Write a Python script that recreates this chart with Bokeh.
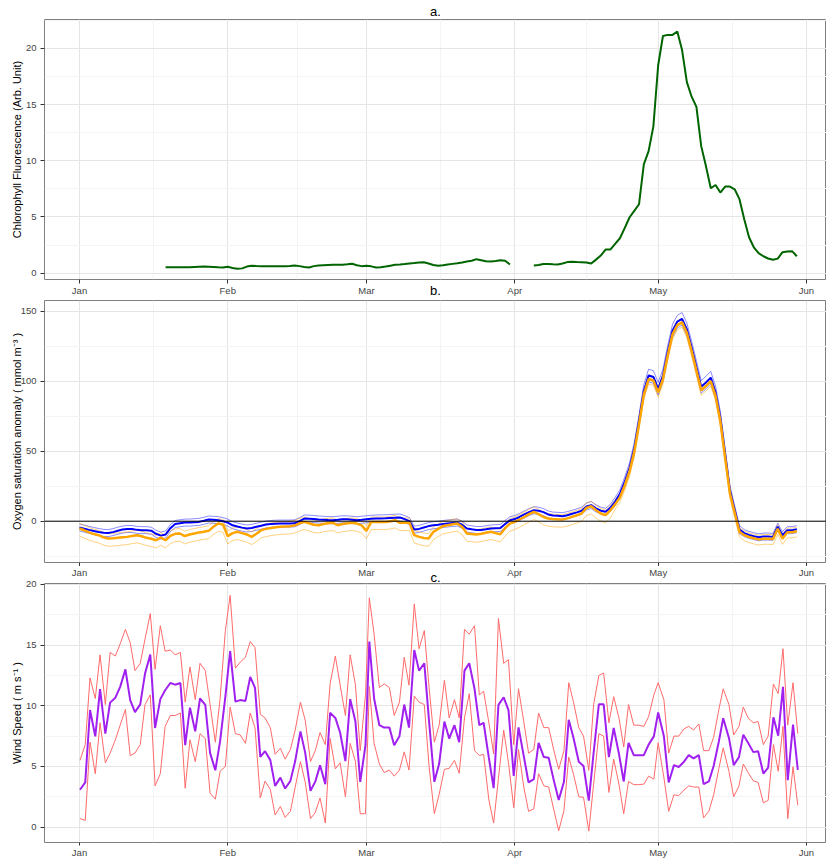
from bokeh.plotting import figure
from bokeh.layouts import column
from bokeh.models import Range1d, FixedTicker, Span, LinearAxis
from bokeh.embed import file_html
from bokeh.resources import INLINE

NAN = float("nan")
FONT = "Liberation Sans"

month_ticks = [0, 31, 60, 91, 121, 152]
month_labels = ["Jan", "Feb", "Mar", "Apr", "May", "Jun"]
month_minor = [15.5, 45.5, 75.5, 106, 136.5]

# ---------------- panel a: chlorophyll fluorescence (daily, day 0 = Jan 1) ----------------
chl_first = 18
chl_part1 = [0.52, 0.51, 0.51, 0.52, 0.52, 0.53, 0.55, 0.57, 0.58, 0.57, 0.55, 0.52, 0.50,
             0.56, 0.46, 0.38, 0.42, 0.58, 0.66, 0.63, 0.61, 0.61, 0.60, 0.60, 0.60, 0.62,
             0.64, 0.68, 0.62, 0.55, 0.50, 0.62, 0.68, 0.70, 0.72, 0.74, 0.75, 0.74, 0.78,
             0.83, 0.70, 0.62, 0.65, 0.60, 0.50, 0.52, 0.58, 0.66, 0.74, 0.76, 0.80, 0.86,
             0.90, 0.95, 0.97, 0.85, 0.72, 0.65, 0.70, 0.76, 0.82, 0.88, 0.95, 1.03, 1.10,
             1.24, 1.15, 1.05, 1.03, 1.08, 1.15, 1.10, 0.76]
chl_gap = 4
chl_part2 = [0.68, 0.72, 0.80, 0.80, 0.78, 0.77, 0.85, 0.98, 1.00, 0.98, 0.97, 0.95, 0.85,
             1.20, 1.56, 2.09, 2.09, 2.60, 3.10, 4.00, 4.95, 5.54, 6.13, 9.67, 10.85, 13.06,
             18.5, 21.1, 21.2, 21.2, 21.5, 19.85, 17.0, 15.7, 14.8, 11.3, 9.5, 7.55, 7.84,
             7.17, 7.7, 7.7, 7.46, 6.58, 4.8, 3.19, 2.3, 1.77, 1.5, 1.3, 1.18, 1.29, 1.86,
             1.92, 1.95, 1.5]
chl = [NAN] * chl_first + chl_part1 + [NAN] * chl_gap + chl_part2

# ---------------- panel b: oxygen saturation anomaly (daily) ----------------
o2_blue = [-4.5, -5.3, -6.2, -7.0, -7.7, -8.3, -8.5, -7.8, -6.8, -6.0, -5.5, -5.6, -6.2, -6.4,
           -6.4, -6.8, -9.0, -10.3, -9.5, -5.0, -2.0, -1.5, -1.0, -1.0, -0.7, -0.5, 0.3, 1.2,
           1.0, 0.7, 0.0, -1.0, -2.9, -3.8, -4.6, -5.2, -4.8, -4.0, -3.2, -2.4, -2.0, -1.8,
           -1.7, -1.7, -1.7, -1.5, 0.0, 1.9, 1.8, 1.5, 1.2, 1.0, 0.8, 0.7, 1.0, 1.4, 1.3, 1.0,
           0.7, 1.0, 1.4, 1.7, 1.9, 2.0, 2.1, 2.3, 2.5, 2.6, 1.5, 0.0, -6.0, -5.5, -4.5, -3.5,
           -2.9, -2.5, -2.0, -1.6, -1.3, -1.0, -2.5, -5.2, -5.8, -6.3, -6.3, -5.8, -5.2, -5.0,
           -4.8, -2.0, 0.7, 1.5, 3.0, 4.8, 6.5, 7.8, 7.5, 6.5, 4.8, 4.0, 3.8, 3.6, 4.3, 5.3,
           6.3, 7.5, 10.5, 11.5, 9.2, 7.5, 6.7, 9.5, 14.0, 19.5, 28.0, 38.0, 52.0, 72.0, 93.0,
           104.0, 103.0, 94.6, 104.0, 121.0, 136.0, 142.5, 144.5, 137.0, 124.0, 110.0, 96.0,
           99.0, 102.5, 92.0, 74.0, 48.0, 22.0, 8.0, -6.0, -8.5, -9.8, -10.7, -11.5, -11.0,
           -11.0, -11.2, -4.0, -10.0, -6.4, -6.4, -5.7]
# half-width of the thin blue envelope
o2_blue_sd = [2.5] * 112 + [3, 3, 3.5, 3.5, 4, 4, 4.5, 4.5, 4.5, 4.5, 4.5, 4.5, 4.5, 4.5,
                            4.5, 4.5, 4.5, 4.5, 4.5, 4.5, 4.5, 4.5, 4.5, 4, 3.5, 3, 3] + [2.5] * 12
o2_orange = [-5.2, -6.5, -8.0, -9.2, -10.0, -11.5, -12.4, -12.2, -11.9, -11.5, -11.2, -10.5,
             -10.0, -10.8, -11.9, -12.5, -13.6, -11.7, -13.6, -10.5, -9.0, -8.8, -10.7, -9.5,
             -8.8, -8.0, -7.5, -6.9, -4.0, -1.7, -2.4, -10.7, -8.5, -7.6, -8.5, -9.5, -11.2,
             -9.0, -6.4, -5.5, -4.8, -4.3, -4.0, -3.8, -3.6, -3.0, -1.5, -0.5, -1.5, -2.5, -2.9,
             -2.0, -1.5, -1.2, -2.9, -2.0, -1.5, -1.2, -1.7, -3.0, -6.9, -0.5, -0.5, -0.5, -0.5,
             0.0, 0.7, -1.2, -1.2, -1.2, -10.0, -11.2, -12.0, -12.4, -7.6, -5.5, -3.5, -2.9,
             -2.2, -1.7, -4.0, -8.8, -9.2, -9.5, -9.0, -8.3, -7.6, -8.5, -9.3, -5.0, -1.7, -0.5,
             1.2, 3.0, 5.0, 6.7, 5.0, 3.0, 1.9, 1.5, 1.3, 1.2, 2.0, 3.1, 4.2, 5.5, 9.5, 10.7, 7.8,
             5.5, 4.3, 7.8, 12.0, 17.0, 25.5, 35.5, 49.5, 69.5, 90.5, 101.5, 100.5, 92.0, 101.5,
             118.5, 133.5, 140.0, 142.0, 134.5, 121.5, 107.5, 93.5, 96.5, 100.0, 89.5, 71.5,
             45.5, 20.0, 6.0, -7.5, -10.0, -11.3, -12.2, -13.0, -12.5, -12.5, -12.7, -5.5,
             -12.5, -7.9, -7.9, -7.2]
o2_orange_up = [3.5] * 112 + [3.0] * 27 + [3.0] * 12
o2_orange_dn = [5.5] * 112 + [3.5] * 27 + [4.0] * 12

# ---------------- panel c: wind speed ----------------
wind_day = [0.1, 1.2, 2.2, 3.3, 4.3, 5.4, 6.4, 7.5, 8.5, 9.6, 10.6, 11.6, 12.7, 13.7, 14.8,
            15.8, 16.9, 17.9, 19.0, 20.0, 21.1, 22.1, 23.1, 24.2, 25.2, 26.3, 27.3, 28.4, 29.4,
            30.5, 31.5, 32.6, 33.6, 34.7, 35.7, 36.7, 37.8, 38.8, 39.9, 40.9, 42.0, 43.0, 44.1,
            45.1, 46.2, 47.2, 48.3, 49.3, 50.3, 51.4, 52.4, 53.5, 54.5, 55.6, 56.6, 57.7, 58.7,
            59.8, 60.6, 61.6, 62.7, 63.7, 64.8, 65.8, 66.9, 67.9, 68.9,
            70.0, 71.0, 72.1, 73.1, 74.2, 75.2, 76.3, 77.3, 78.4, 79.4, 80.5, 81.5, 82.6, 83.6,
            84.5, 85.6, 86.6, 87.6, 88.7, 89.7, 90.8, 91.8, 92.9, 93.9, 95.0, 96.0, 97.1, 98.1,
            99.2, 100.2, 101.3, 102.3, 103.3, 104.4, 105.4, 106.5, 107.5, 108.6, 109.6, 110.7,
            111.7, 112.8, 113.8, 114.8, 115.9, 116.9, 118.0, 119.0, 120.1, 121.0, 122.2, 123.2,
            124.3, 125.3, 126.4, 127.4, 128.4, 129.5, 130.5, 131.6, 132.6, 133.7, 134.6, 135.8,
            136.8, 137.9, 138.8, 139.8, 140.9, 141.9, 143.0, 144.0, 145.1, 146.1, 147.1, 148.1,
            149.2, 150.2]
wind = [3.08, 3.68, 9.65, 7.48, 11.37, 7.7, 10.26, 10.67, 11.56, 13.0, 10.47, 9.48, 10.12,
        12.65, 14.23, 8.17, 10.55, 11.28, 11.88, 11.74, 11.88, 6.75, 9.85, 7.89, 10.6, 10.07,
        6.12, 4.68, 7.08, 10.75, 14.5, 10.34, 10.47, 10.4, 12.38, 11.48, 5.79, 6.26, 5.52,
        3.4, 4.08, 3.18, 3.81, 5.44, 7.89, 6.12, 2.99, 3.75, 5.09, 3.54, 9.42, 9.0, 7.78,
        5.44, 10.55, 8.7, 3.73, 6.75, 15.3, 10.6, 8.4, 8.2, 8.2, 6.75, 7.48, 10.1, 8.2,
        14.6, 12.9, 13.5, 8.7, 3.73, 5.22, 8.7, 7.3, 8.4, 7.0, 12.9, 13.5, 11.4, 8.4, 8.6,
        5.7, 3.21, 10.07, 10.7, 9.65, 4.22, 8.22, 5.85, 3.68, 3.95, 6.95, 5.77, 5.72, 3.81,
        2.24, 3.73, 8.84, 7.35, 5.39, 5.03, 2.18, 6.12, 10.12, 10.12, 5.77, 8.17, 6.04, 3.76,
        6.95, 5.93, 5.93, 5.93, 6.8, 7.48, 9.45, 7.48, 3.68, 5.11, 4.95, 5.39, 5.93, 5.66,
        5.93, 3.54, 3.76, 5.03, 7.08, 8.98, 7.35, 5.11, 5.77, 7.62, 6.95, 6.18, 6.26, 4.41,
        4.9, 9.05, 7.54, 11.56, 3.87, 8.44, 4.71]
wind_hi = [5.5, 6.8, 12.3, 10.6, 14.2, 10.1, 14.4, 14.1, 15.1, 16.3, 15.2, 12.9, 13.5, 15.5,
           17.6, 13.0, 16.6, 14.5, 14.6, 14.2, 14.4, 10.3, 13.2, 10.5, 13.5, 12.9, 10.1, 7.0,
           10.6, 16.2, 19.1, 13.1, 13.6, 14.0, 15.3, 14.8, 9.3, 9.0, 8.2, 6.0, 6.5, 5.6, 6.4,
           8.0, 10.3, 8.8, 5.4, 6.3, 7.8, 6.8, 11.8, 14.1, 11.7, 9.2, 14.2, 11.7, 6.3, 10.9,
           18.9, 15.9, 11.5, 11.8, 11.5, 9.2, 10.3, 14.0, 11.7,
           18.4, 14.7, 16.2, 11.5, 7.0, 8.4, 12.1, 9.0, 10.5, 9.0, 16.3, 15.9, 16.6, 10.9, 11.2,
           8.6, 6.04, 17.2, 13.5, 13.8, 6.8, 11.4, 8.7, 6.1, 6.4, 9.4, 8.2, 8.2, 6.3, 4.76,
           6.3, 11.9, 10.3, 8.2, 7.5, 4.68, 10.1, 12.5, 12.7, 8.6, 10.75, 9.0, 6.6, 10.1, 8.4,
           8.4, 8.3, 9.1, 10.9, 11.9, 10.5, 6.1, 7.5, 7.5, 8.1, 8.3, 8.0, 8.5, 6.3, 6.3,
           7.4, 9.7, 11.4, 10.1, 7.6, 8.3, 9.9, 9.0, 8.6, 8.7, 6.8, 7.5, 11.8, 11.0, 14.7,
           8.4, 11.9, 7.7]
wind_lo = [0.7, 0.55, 7.0, 4.4, 8.6, 5.3, 6.1, 7.2, 8.4, 9.7, 5.9, 6.1, 6.8, 10.1, 10.9, 3.4,
           4.4, 8.3, 9.2, 9.2, 9.4, 3.2, 7.2, 5.4, 7.7, 7.3, 2.8, 2.3, 4.6, 5.0, 9.9, 7.7, 7.6,
           6.9, 9.4, 8.2, 2.4, 3.8, 3.1, 1.0, 1.7, 0.8, 1.3, 3.3, 5.4, 3.7, 0.7, 1.2, 2.4, 0.33,
           7.3, 4.8, 5.3, 2.5, 6.9, 5.4, 1.1, 1.1, 11.6, 6.9, 5.2, 4.5, 4.7, 4.2, 4.7, 6.2, 4.7,
           10.8, 10.3, 10.1, 5.0, 1.1, 2.7, 4.76, 4.84, 5.5, 4.44, 9.0, 11.0, 6.3, 5.9, 6.0,
           2.24, 0.33, 4.0, 8.0, 5.3, 1.6, 6.4, 3.3, 1.3, 1.5, 4.4, 3.4, 3.3, 1.4, -0.3,
           1.35, 5.77, 4.35, 2.5, 2.45, -0.33, 3.5, 7.7, 7.5, 2.86, 5.6, 3.54, 1.1, 3.76, 3.5,
           3.5, 3.54, 4.2, 3.95, 6.95, 4.08, 1.3, 2.66, 2.6, 3.05, 3.4, 3.3, 3.3, 0.76, 1.3,
           2.66, 4.84, 6.53, 4.6, 2.5, 3.4, 5.2, 4.5, 3.81, 3.68, 2.0, 2.2, 6.8, 4.6, 8.3,
           0.7, 4.97, 1.8]


def days(first, n):
    return list(range(first, first + n))


def style_caption(ax, text, standoff):
    ax.axis_label = text
    ax.axis_label_text_font = FONT
    ax.axis_label_text_font_size = "13px"
    ax.axis_label_text_font_style = "normal"
    ax.axis_label_text_color = "black"
    ax.axis_label_standoff = standoff


def base_fig(height, yr, yticks, yminor, ylabel, top, bottom, ylab_standoff,
             tick_out=4, lab_stand=1, title=None):
    kw = {}
    if title is not None:
        kw["title"] = title
    p = figure(width=826, height=height, x_range=Range1d(-7.32, 156.2), y_range=Range1d(*yr),
               output_backend="svg", toolbar_location=None,
               min_border_left=44, min_border_right=0, min_border_top=top,
               min_border_bottom=bottom, **kw)
    p.background_fill_color = "white"
    p.border_fill_color = "white"
    p.outline_line_color = "#7F7F7F"
    p.outline_line_width = 1
    p.xaxis.ticker = FixedTicker(ticks=month_ticks, minor_ticks=month_minor)
    p.xaxis.major_label_overrides = dict(zip(month_ticks, month_labels))
    p.yaxis.ticker = FixedTicker(ticks=yticks, minor_ticks=yminor)
    for ax in (p.xaxis, p.yaxis):
        ax.axis_line_color = None
        ax.minor_tick_line_color = None
        ax.major_tick_line_color = "#333333"
        ax.major_tick_in = 0
        ax.major_label_text_font = FONT
        ax.major_label_text_font_size = "9.5px"
        ax.major_label_text_color = "#444444"
    p.xaxis.major_tick_out = tick_out
    p.yaxis.major_tick_out = 4
    p.xaxis.major_label_standoff = lab_stand
    p.yaxis.major_label_standoff = 4
    p.yaxis.axis_label = ylabel
    p.yaxis.axis_label_text_font = FONT
    p.yaxis.axis_label_text_font_size = "11px"
    p.yaxis.axis_label_text_font_style = "normal"
    p.yaxis.axis_label_text_color = "black"
    p.yaxis.axis_label_standoff = ylab_standoff
    if title is not None:
        p.title.align = "center"
        p.title.text_font = FONT
        p.title.text_font_size = "13px"
        p.title.text_font_style = "normal"
        p.title.text_color = "black"
        p.title.standoff = 2
    for g in (p.xgrid, p.ygrid):
        g.grid_line_color = "#E5E5E5"
        g.grid_line_width = 1
        g.minor_grid_line_color = "#F4F4F4"
        g.minor_grid_line_width = 1
    return p


# panel a
ya = (-0.57, 22.57)
pa = base_fig(300, ya, [0, 5, 10, 15, 20], [2.5, 7.5, 12.5, 17.5, 22.5],
              "Chlorophyll Fluorescence (Arb. Unit)", 19, 19, 0, title="a.")
# the next panel's caption sits on the same line as this panel's month labels
style_caption(pa.xaxis[0], "b.", -16)
pa.line(days(0, len(chl)), chl, line_color="#006400", line_width=2)

# panel b: only tick marks below; its month labels are drawn at the top of panel c's canvas
yb = (-29.5, 157.6)
pb = base_fig(266, yb, [0, 50, 100, 150], [-25, 25, 75, 125],
              "Oxygen saturation anomaly ( mmol m\u207b\u00b3 )", 0, 4, -5, lab_stand=0)
pb.xaxis.major_label_text_color = None
xb = days(0, len(o2_blue))
pb.line(xb, [v + s for v, s in zip(o2_blue, o2_blue_sd)], line_color="#0000FF", line_alpha=0.45, line_width=1)
pb.line(xb, [v - s for v, s in zip(o2_blue, o2_blue_sd)], line_color="#0000FF", line_alpha=0.45, line_width=1)
pb.line(xb, [v + s for v, s in zip(o2_orange, o2_orange_up)], line_color="#FFA500", line_alpha=0.5, line_width=1)
pb.line(xb, [v - s for v, s in zip(o2_orange, o2_orange_dn)], line_color="#FFA500", line_alpha=0.5, line_width=1)
pb.line(xb, o2_blue, line_color="#0000FF", line_width=2)
pb.line(xb, o2_orange, line_color="#FFA500", line_width=2.5)
pb.add_layout(Span(location=0, dimension="width", line_color="black", line_width=1))

# panel c
yc = (-1.27, 20.08)
pc = base_fig(294, yc, [0, 5, 10, 15, 20], [2.5, 7.5, 12.5, 17.5],
              "Wind Speed ( m s\u207b\u00b9 )", 15, 17, 0, tick_out=3, lab_stand=0)
top_axis = LinearAxis(ticker=FixedTicker(ticks=month_ticks),
                      major_label_overrides=dict(zip(month_ticks, month_labels)))
top_axis.axis_line_color = None
top_axis.major_tick_line_color = None
top_axis.minor_tick_line_color = None
top_axis.major_tick_in = 0
top_axis.major_tick_out = 0
top_axis.major_label_standoff = 6
top_axis.major_label_text_font = FONT
top_axis.major_label_text_font_size = "9.5px"
top_axis.major_label_text_color = "#444444"
style_caption(top_axis, "c.", -21)
pc.add_layout(top_axis, "above")
pc.line(wind_day, wind_hi, line_color="#FF6A6A", line_width=1)
pc.line(wind_day, wind_lo, line_color="#FF6A6A", line_width=1)
pc.line(wind_day, wind, line_color="#A020F0", line_width=2)

layout = column(pa, pb, pc)
open("out.html", "w").write(file_html(layout, INLINE))
